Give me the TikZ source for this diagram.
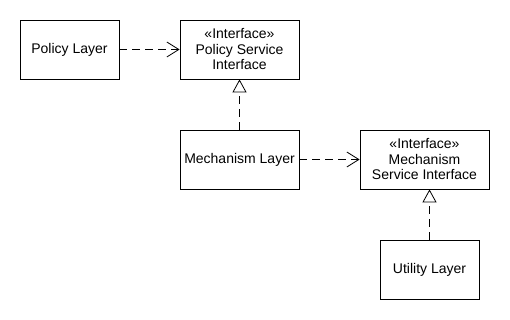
\documentclass[tikz,border=0pt]{standalone}
\usepackage{fontspec}
\setmainfont{Liberation Sans}
\usepackage{tikz}
\usetikzlibrary{arrows.meta,positioning,calc}

\begin{document}
\begin{tikzpicture}[
  x=1pt, y=-1pt,
  font=\fontsize{14}{15.5}\selectfont,
  box/.style={draw, line width=0.8pt, align=center, inner sep=0pt, minimum height=59pt},
  dep/.style={-{Straight Barb[length=12pt, width=15pt, line width=0.8pt]}, line width=0.8pt, dash pattern=on 8pt off 5pt},
  impl/.style={-{Triangle[open, length=13pt, width=14pt, line width=0.8pt, fill=white]}, line width=0.8pt, dash pattern=on 8pt off 5pt},
]
\useasboundingbox (0,0) rectangle (510,320);
\node[box, minimum width=99pt] (pol) at (69.5,49.5) {Policy Layer};
\node[box, minimum width=119pt] (psi) at (239.5,49.5) {«Interface»\\Policy Service\\Interface};
\node[box, minimum width=119pt] (mech) at (239.5,159.5) {Mechanism Layer};
\node[box, minimum width=129pt] (msi) at (424.5,159.5) {«Interface»\\Mechanism\\Service Interface};
\node[box, minimum width=99pt] (util) at (429.5,269.5) {Utility Layer};
\draw[dep] (pol) -- (psi);
\draw[dep] (mech) -- (msi);
\draw[impl] (mech) -- (psi);
\draw[impl] (util.north) -- (util.north |- msi.south);
\end{tikzpicture}
\end{document}
